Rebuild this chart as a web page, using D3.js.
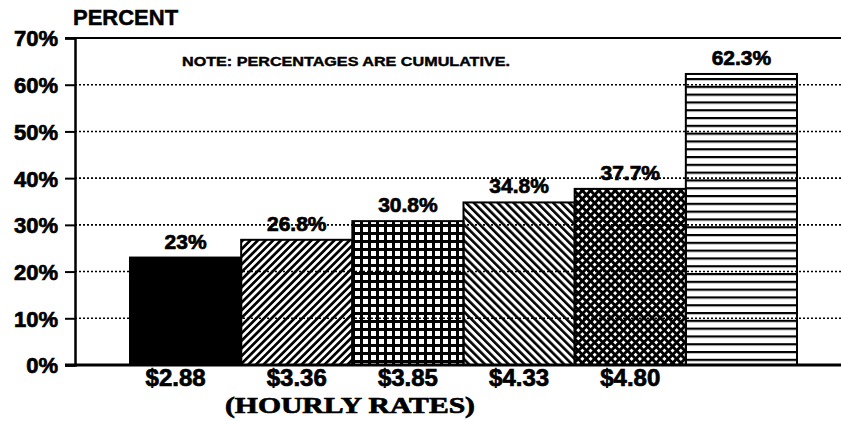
<!DOCTYPE html>
<html>
<head>
<meta charset="utf-8">
<script src="https://cdn.jsdelivr.net/npm/d3@7"></script>
<style>
  body { margin: 0; background: #fff; }
  text { font-family: "Liberation Sans", Arial, sans-serif; font-weight: bold; fill: #000; }
</style>
</head>
<body>
<div id="chart"></div>
<script>
// hourly rate categories (last bar has no label)
const rates = ["$2.88", "$3.36", "$3.85", "$4.33", "$4.80", ""];
// cumulative percentages
const percents = [23, 26.8, 30.8, 34.8, 37.7, 62.3];
const percentLabels = ["23%", "26.8%", "30.8%", "34.8%", "37.7%", "62.3%"];
const yTicks = [0, 10, 20, 30, 40, 50, 60, 70];
const patterns = ["solid", "diagUp", "grid", "diagDown", "diamond", "horiz"];

const width = 841, height = 421;

var svg = d3.select("#chart").append("svg")
    .attr("width", width)
    .attr("height", height);

svg.append("rect").attr("width", width).attr("height", height).attr("fill", "#fff");

var defs = svg.append("defs");

// striped patterns: stripes rotated by an angle
function stripes(id, size, thick, angle) {
    var p = defs.append("pattern")
        .attr("id", id)
        .attr("patternUnits", "userSpaceOnUse")
        .attr("width", size)
        .attr("height", size)
        .attr("patternTransform", "rotate(" + angle + ")");
    p.append("rect").attr("x", 0).attr("y", 0).attr("width", thick).attr("height", size).attr("fill", "#000");
}
stripes("diagUp", 5.4, 2.7, 45);
stripes("diagDown", 5.6, 2.6, -45);
stripes("horiz", 7.8, 2.2, 90);

// grid of white squares
function hatch(id, size, thick, angle) {
    var p = defs.append("pattern")
        .attr("id", id)
        .attr("patternUnits", "userSpaceOnUse")
        .attr("width", size)
        .attr("height", size)
        .attr("patternTransform", "rotate(" + angle + ")");
    p.append("rect").attr("width", thick).attr("height", size).attr("fill", "#000");
    p.append("rect").attr("width", size).attr("height", thick).attr("fill", "#000");
}
hatch("grid", 8, 3, 0);
hatch("diamond", 5.8, 2.9, 45);

var x = d3.scaleBand()
    .domain(rates)
    .range([130, 797])
    .padding(0);

var y = d3.scaleLinear()
    .domain([0, 70])
    .range([365, 38]);

// dotted gridlines
svg.append("g")
    .selectAll("line")
    .data(yTicks.filter(d => d > 0 && d < 70))
    .enter()
    .append("line")
        .attr("x1", 75)
        .attr("x2", width)
        .attr("y1", d => y(d))
        .attr("y2", d => y(d))
        .attr("stroke", "#000")
        .attr("stroke-width", 1.6)
        .attr("stroke-dasharray", "2,2");

// top frame line
svg.append("line")
    .attr("x1", 65).attr("x2", width)
    .attr("y1", y(70)).attr("y2", y(70))
    .attr("stroke", "#000").attr("stroke-width", 2);

// bars
svg.append("g")
    .selectAll("rect")
    .data(percents)
    .enter()
    .append("rect")
        .attr("x", (d, i) => x(rates[i]))
        .attr("y", d => y(d))
        .attr("width", x.bandwidth())
        .attr("height", d => y(0) - y(d))
        .attr("fill", (d, i) => patterns[i] == "solid" ? "#000" : "url(#" + patterns[i] + ")")
        .attr("stroke", "#000")
        .attr("stroke-width", 2);

// value labels above bars
svg.append("g")
    .selectAll("text")
    .data(percents)
    .enter()
    .append("text")
        .attr("x", (d, i) => x(rates[i]) + x.bandwidth() / 2)
        .attr("y", d => y(d) - 9)
        .attr("text-anchor", "middle")
        .attr("font-size", 21)
        .attr("stroke", "#000")
        .attr("stroke-width", 0.7)
        .text((d, i) => percentLabels[i]);

// y axis
var yAxis = svg.append("g")
    .attr("transform", "translate(75,0)")
    .call(d3.axisLeft(y).tickValues(yTicks).tickSize(10).tickPadding(7).tickFormat(d => d + "%"));
yAxis.select(".domain").attr("stroke-width", 2.5);
yAxis.selectAll(".tick line").attr("stroke-width", 2);
yAxis.selectAll(".tick text")
    .attr("font-size", 22)
    .attr("font-family", "Liberation Sans, Arial, sans-serif")
    .attr("font-weight", "bold")
    .attr("stroke", "#000")
    .attr("stroke-width", 0.7)
    .attr("dy", "0.36em");

// baseline
svg.append("line")
    .attr("x1", 65).attr("x2", width)
    .attr("y1", y(0)).attr("y2", y(0))
    .attr("stroke", "#000").attr("stroke-width", 3);

// x labels
svg.append("g")
    .selectAll("text")
    .data(rates.filter(r => r != ""))
    .enter()
    .append("text")
        .attr("x", (d, i) => x(d) + x.bandwidth() / 2 - (i == 0 ? 10 : 0))
        .attr("y", 386)
        .attr("text-anchor", "middle")
        .attr("font-size", 24)
        .attr("stroke", "#000")
        .attr("stroke-width", 0.7)
        .text(d => d);

svg.append("text")
    .attr("x", 350)
    .attr("y", 413)
    .attr("text-anchor", "middle")
    .attr("font-size", 23)
    .attr("textLength", 250)
    .attr("lengthAdjust", "spacingAndGlyphs")
    .style("font-family", "Liberation Serif, Times New Roman, serif")
    .attr("stroke", "#000")
    .attr("stroke-width", 0.7)
    .text("(HOURLY RATES)");

// axis title
svg.append("text")
    .attr("x", 73)
    .attr("y", 25)
    .attr("font-size", 22)
    .attr("stroke", "#000")
    .attr("stroke-width", 0.5)
    .text("PERCENT");

// note
svg.append("text")
    .attr("x", 182)
    .attr("y", 66)
    .attr("font-size", 12.5)
    .attr("textLength", 328)
    .attr("lengthAdjust", "spacingAndGlyphs")
    .attr("stroke", "#000")
    .attr("stroke-width", 0.4)
    .text("NOTE: PERCENTAGES ARE CUMULATIVE.");
</script>
</body>
</html>
